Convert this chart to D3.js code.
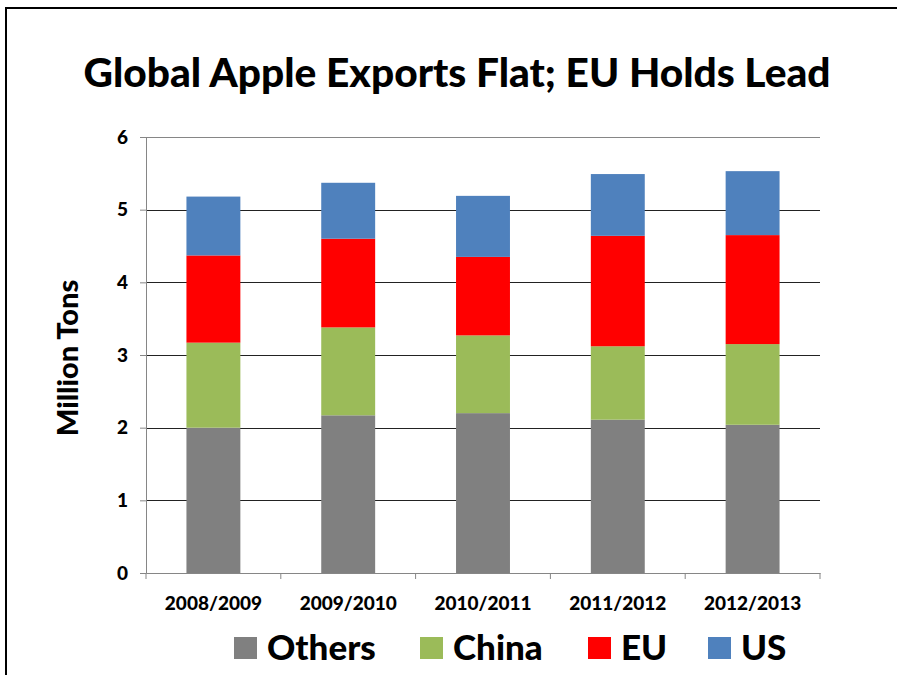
<!DOCTYPE html>
<html>
<head>
  <title>Global Apple Exports</title>
  <script src="https://d3js.org/d3.v7.min.js"></script>
  <style>
    body { margin: 0; background: #fff; font-family: Lato, "Open Sans", Arial, sans-serif; }
    .axis text { font-weight: 900; fill: #000; font-family: Lato, "Open Sans", Arial, sans-serif; }
  </style>
</head>
<body>
  <div id="chart"></div>
  <script>
// data (million tons)
const years = ["2008/2009", "2009/2010", "2010/2011", "2011/2012", "2012/2013"];
const seriesNames = ["Others", "China", "EU", "US"];
const others = [2.00, 2.17, 2.20, 2.11, 2.04];
const china = [1.17, 1.21, 1.07, 1.01, 1.11];
const eu = [1.20, 1.22, 1.08, 1.52, 1.50];
const us = [0.81, 0.77, 0.84, 0.85, 0.88];
const yTicks = [0, 1, 2, 3, 4, 5, 6];
const colors = ["#808080", "#9BBB59", "#FF0000", "#4F81BD"];

const width = 897, height = 675;
const margin = { top: 137, right: 77, bottom: 102, left: 146 };

const rows = years.map((y, i) => ({ year: y, Others: others[i], China: china[i], EU: eu[i], US: us[i] }));
const stacked = d3.stack().keys(seriesNames)(rows);

const svg = d3.select("#chart").append("svg")
  .attr("width", width)
  .attr("height", height);

// outer frame (runs off the right and bottom edge)
svg.append("rect")
  .attr("x", 6).attr("y", 8)
  .attr("width", 960).attr("height", 720)
  .attr("fill", "none")
  .attr("stroke", "#000")
  .attr("stroke-width", 2);

const x = d3.scaleBand()
  .domain(years)
  .range([margin.left, width - margin.right])
  .paddingInner(0.6)
  .paddingOuter(0.3);

const y = d3.scaleLinear()
  .domain([0, 6])
  .range([height - margin.bottom, margin.top]);

// gridlines
svg.append("g")
  .selectAll("line")
  .data(yTicks.slice(1))
  .join("line")
    .attr("x1", margin.left)
    .attr("x2", width - margin.right)
    .attr("y1", d => Math.round(y(d)) + 0.5)
    .attr("y2", d => Math.round(y(d)) + 0.5)
    .attr("stroke", d => d == 6 ? "#868686" : "#222")
    .attr("stroke-width", 1);

// bars
svg.append("g")
  .selectAll("g")
  .data(stacked)
  .join("g")
    .attr("fill", (d, i) => colors[i])
  .selectAll("rect")
  .data(d => d)
  .join("rect")
    .attr("x", d => x(d.data.year))
    .attr("y", d => y(d[1]))
    .attr("width", x.bandwidth())
    .attr("height", d => y(d[0]) - y(d[1]));

// y axis
const yAxis = svg.append("g")
  .attr("class", "axis")
  .attr("transform", `translate(${margin.left},0)`)
  .call(d3.axisLeft(y).tickValues(yTicks).tickFormat(d3.format("d")).tickSize(6).tickPadding(12));
yAxis.selectAll("text").attr("font-size", "19px");
yAxis.selectAll("line, path").attr("stroke", "#868686");

// x axis: ticks sit between categories
const xAxis = svg.append("g")
  .attr("class", "axis")
  .attr("transform", `translate(0,${height - margin.bottom})`)
  .call(d3.axisBottom(x).tickSize(0).tickPadding(24));
xAxis.selectAll("text").attr("font-size", "19px");
xAxis.select("path").attr("stroke", "#868686");
const bounds = d3.range(years.length + 1).map(i => margin.left + i * (width - margin.right - margin.left) / years.length);
xAxis.selectAll(".sep")
  .data(bounds)
  .join("line")
    .attr("class", "sep")
    .attr("x1", d => d).attr("x2", d => d)
    .attr("y1", 0).attr("y2", 6)
    .attr("stroke", "#868686");

// title
svg.append("text")
  .attr("x", 457).attr("y", 87)
  .attr("text-anchor", "middle")
  .attr("font-size", "40px")
  .attr("font-weight", "900")
  .attr("textLength", 747)
  .attr("lengthAdjust", "spacingAndGlyphs")
  .text("Global Apple Exports Flat; EU Holds Lead");

// y label
svg.append("text")
  .attr("transform", "translate(78,358) rotate(-90)")
  .attr("text-anchor", "middle")
  .attr("font-size", "29px")
  .attr("font-weight", "900")
  .text("Million Tons");

// legend
const legendX = [234, 420, 588, 708];
const legend = svg.append("g")
  .selectAll("g")
  .data(seriesNames)
  .join("g")
    .attr("transform", (d, i) => `translate(${legendX[i]},637)`);
legend.append("rect")
  .attr("width", 23).attr("height", 22)
  .attr("fill", (d, i) => colors[i]);
legend.append("text")
  .attr("x", 33).attr("y", 23)
  .attr("font-size", "35px")
  .attr("font-weight", "900")
  .text(d => d);
  </script>
</body>
</html>
